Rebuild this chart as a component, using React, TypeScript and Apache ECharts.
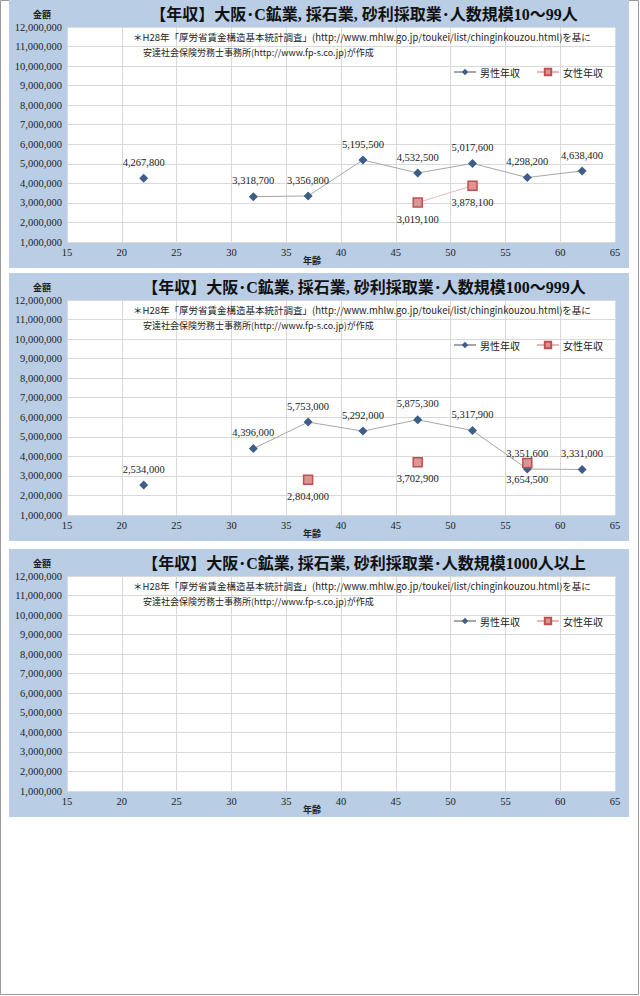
import { useEffect, useRef } from 'react';
import * as echarts from 'echarts';

// 年齢（階級の中央値）
const ages = [22, 27, 32, 37, 42, 47, 52, 57, 62];

// 人数規模10～99人
const male10 = [4267800, null, 3318700, 3356800, 5195500, 4532500, 5017600, 4298200, 4638400];
const female10 = [null, null, null, null, null, 3019100, 3878100, null, null];

// 人数規模100～999人
const male100 = [2534000, null, 4396000, 5753000, 5292000, 5875300, 5317900, 3351600, 3331000];
const female100 = [null, null, null, 2804000, null, 3702900, null, 3654500, null];

// 人数規模1000人以上（データなし）
const male1000 = [null, null, null, null, null, null, null, null, null];
const female1000 = [null, null, null, null, null, null, null, null, null];

const titles = [
  '【年収】大阪･C鉱業, 採石業, 砂利採取業･人数規模10～99人',
  '【年収】大阪･C鉱業, 採石業, 砂利採取業･人数規模100～999人',
  '【年収】大阪･C鉱業, 採石業, 砂利採取業･人数規模1000人以上',
];
const maleSets = [male10, male100, male1000];
const femaleSets = [female10, female100, female1000];

const NOTE1 = '＊H28年「厚労省賃金構造基本統計調査」(http://www.mhlw.go.jp/toukei/list/chinginkouzou.html)を基に';
const NOTE2 = '安達社会保険労務士事務所(http://www.fp-s.co.jp)が作成';

const PANEL_TOPS = [0, 273, 549];
const SERIF = 'Liberation Serif, DejaVu Serif, Noto Sans CJK JP, serif';
const SANS = 'Noto Sans CJK JP, Noto Sans, sans-serif';

const fmt = (v: number) => v.toLocaleString('en-US');
const toPairs = (vals: (number | null)[]) => ages.map((a, i) => [a, vals[i] == null ? '-' : vals[i]]);

export default function App() {
  const ref = useRef<HTMLDivElement>(null);

  useEffect(() => {
    if (!ref.current) return;
    const chart = echarts.init(ref.current, null, { renderer: 'svg' });

    const grids: any[] = [];
    const xAxes: any[] = [];
    const yAxes: any[] = [];
    const series: any[] = [];
    const legends: any[] = [];
    const graphics: any[] = [
      { type: 'rect', z: -20, shape: { x: 0.5, y: 0.5, width: 638, height: 994 }, style: { fill: '#fff', stroke: '#9a9a9a', lineWidth: 1 } },
    ];

    PANEL_TOPS.forEach((T, i) => {
      grids.push({ left: 67, right: 25, top: T + 27, height: 215, show: false });
      xAxes.push({
        type: 'value', gridIndex: i, min: 15, max: 65, interval: 5,
        axisLine: { show: false }, axisTick: { show: false },
        axisLabel: { fontFamily: SERIF, fontSize: 10.5, color: '#222', margin: 5 },
        splitLine: { lineStyle: { color: '#d9d9d9', width: 1 } },
      });
      yAxes.push({
        type: 'value', gridIndex: i, min: 1000000, max: 12000000, interval: 1000000,
        axisLine: { show: false }, axisTick: { show: false },
        axisLabel: { fontFamily: SERIF, fontSize: 10.5, color: '#222', margin: 5, formatter: (v: number) => fmt(v) },
        splitLine: { lineStyle: { color: '#d9d9d9', width: 1 } },
      });
      series.push({
        name: '男性年収', type: 'line', xAxisIndex: i, yAxisIndex: i,
        data: toPairs(maleSets[i]),
        symbol: 'diamond', symbolSize: 9,
        itemStyle: { color: '#3d5d8a' },
        lineStyle: { color: '#a6a6a6', width: 1 },
        label: {
          show: true, position: 'top', distance: 6,
          fontFamily: SERIF, fontSize: 10.5, color: '#222',
          formatter: (p: any) => fmt(p.value[1]),
        },
      });
      series.push({
        name: '女性年収', type: 'line', xAxisIndex: i, yAxisIndex: i,
        data: toPairs(femaleSets[i]),
        symbol: 'rect', symbolSize: 9,
        itemStyle: { color: '#da9694', borderColor: '#c0504d', borderWidth: 1.5 },
        lineStyle: { color: '#e6b9b8', width: 1 },
        label: {
          show: true, position: 'bottom', distance: 6,
          fontFamily: SERIF, fontSize: 10.5, color: '#222',
          formatter: (p: any) => fmt(p.value[1]),
        },
      });
      legends.push({
        data: ['男性年収', '女性年収'], left: 448, top: T + 62,
        itemWidth: 22, itemHeight: 8, itemGap: 16, selectedMode: false,
        textStyle: { fontFamily: SANS, fontSize: 10, color: '#222', padding: [0, 0, 0, -1] },
      });
      graphics.push(
        { type: 'rect', z: -10, shape: { x: 9, y: T, width: 620, height: 268 }, style: { fill: '#b9cde5' } },
        { type: 'rect', z: -9, shape: { x: 67, y: T + 27, width: 548, height: 215 }, style: { fill: '#ffffff' } },
        { type: 'text', z: 50, x: 364, y: T + 14, style: { text: titles[i], fontFamily: SERIF, fontSize: 16, fontWeight: 'bold', fill: '#111', align: 'center', verticalAlign: 'middle' } },
        { type: 'text', z: 50, x: 42, y: T + 14, style: { text: '金額', fontFamily: SANS, fontSize: 9, fontWeight: 'bold', fill: '#222', align: 'center', verticalAlign: 'middle' } },
        { type: 'text', z: 50, x: 312, y: T + 260, style: { text: '年齢', fontFamily: SANS, fontSize: 9, fontWeight: 'bold', fill: '#222', align: 'center', verticalAlign: 'middle' } },
        { type: 'text', z: 50, x: 133, y: T + 37, style: { text: NOTE1, fontFamily: SANS, fontSize: 9.5, fill: '#222', align: 'left', verticalAlign: 'middle' } },
        { type: 'text', z: 50, x: 143, y: T + 52, style: { text: NOTE2, fontFamily: SANS, fontSize: 9, fill: '#222', align: 'left', verticalAlign: 'middle' } },
      );
    });

    chart.setOption({
      animation: false,
      grid: grids,
      xAxis: xAxes,
      yAxis: yAxes,
      legend: legends,
      series,
      graphic: graphics,
    });

    const handleResize = () => chart.resize();
    window.addEventListener('resize', handleResize);
    return () => {
      window.removeEventListener('resize', handleResize);
      chart.dispose();
    };
  }, []);

  return (
    <div
      ref={ref}
      style={{ position: 'absolute', left: 0, top: 0, width: '640px', height: '996px', background: '#fff' }}
    />
  );
}
